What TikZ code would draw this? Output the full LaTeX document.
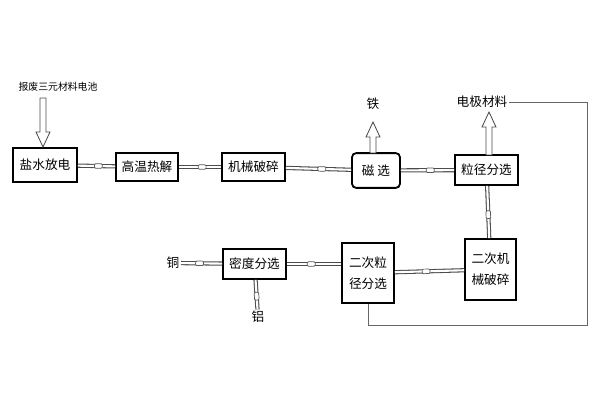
\documentclass[tikz,border=0pt]{standalone}
\usepackage{fontspec}
\newfontfamily\cjk{Noto Sans CJK SC}
\usetikzlibrary{arrows.meta, decorations.markings}

% hollow block arrow, vertical: x, tail y, tip y
\newcommand{\blockarrow}[3]{%
  \pgfmathsetmacro{\hd}{(#3 > #2) ? -15 : 15}
  \draw[black!70, line width=0.6pt, fill=white]
    (#1-3,#2) -- (#1-3,#3+\hd) -- (#1-7,#3+\hd) -- (#1,#3)
    -- (#1+7,#3+\hd) -- (#1+3,#3+\hd) -- (#1+3,#2) -- cycle;}

\begin{document}
\begin{tikzpicture}[x=0.025cm, y=-0.025cm, font=\cjk\fontsize{9}{10}\selectfont,
  box/.style={draw, line width=1.3pt, inner sep=1pt, align=center},
  lbl/.style={inner sep=1pt},
  link/.style={draw=black!70, double=white, double distance=1.5pt, line width=0.75pt,
    postaction={decorate}, decoration={markings,
      mark=at position 0.55 with {\draw[black!65, fill=white, line width=0.5pt, rounded corners=0.8pt] (-2.8pt,-1.6pt) rectangle (2.8pt,1.6pt);}}},
  fb/.style={draw=black!60, line width=0.7pt}]
  \useasboundingbox (0,0) rectangle (600,400);
  % top row
  \node[box, minimum width=1.6cm, minimum height=0.87cm] (dis) at (45,165) {盐水放电};
  \node[box, minimum width=1.55cm, minimum height=0.72cm] (pyro) at (147,167) {高温热解};
  \node[box, minimum width=1.57cm, minimum height=0.72cm] (crush) at (253.5,167) {机械破碎};
  \node[box, rounded corners=3pt, minimum width=1.2cm, minimum height=0.87cm] (mag) at (376,170.5) {磁 选};
  \node[box, minimum width=1.57cm, minimum height=0.75cm] (sieve) at (486.5,170) {粒径分选};
  % bottom row
  \node[box, minimum width=1.27cm, minimum height=1.52cm] (crushB) at (490.5,269.5) {二次机\\[5pt]械破碎};
  \node[box, minimum width=1.3cm, minimum height=1.5cm] (sieveB) at (368,273) {二次粒\\[5pt]径分选};
  \node[box, minimum width=1.57cm, minimum height=0.75cm] (dens) at (254.5,264) {密度分选};
  % products
  \node[lbl, font=\cjk\fontsize{7}{8}\selectfont] (batt) at (58,87) {报废三元材料电池};
  \node[lbl] (fe) at (373,104) {铁};
  \node[lbl] (elec) at (482,102) {电极材料};
  \node[lbl] (cu) at (173,263) {铜};
  \node[lbl] (al) at (258,317) {铝};
  % hollow arrows
  \blockarrow{43}{98}{147}
  \blockarrow{373}{153}{122}
  \blockarrow{489}{155}{112}
  % connectors
  \draw[link] (dis) -- (pyro);
  \draw[link] (pyro) -- (crush);
  \draw[link] (crush) -- (mag);
  \draw[link] (mag) -- (sieve);
  \draw[link] (sieve) -- (crushB);
  \draw[link] (crushB) -- (sieveB);
  \draw[link] (sieveB.west |- dens) -- (dens);
  \draw[link] (dens) -- (cu);
  \draw[link] (dens) -- (al);
  % return line
  \draw[fb] (elec.east) -- (587,102) -- (587,325) -| (sieveB.south);
\end{tikzpicture}
\end{document}
